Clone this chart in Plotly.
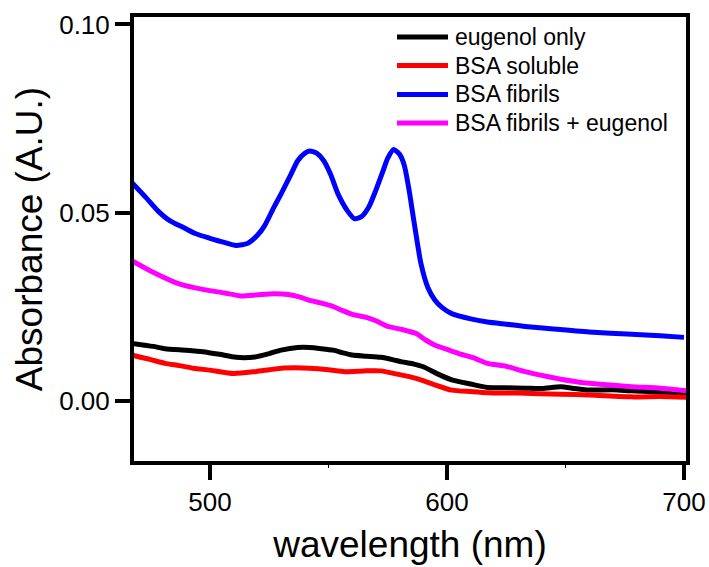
import plotly.graph_objects as go

# Absorbance spectra (wavelength in nm, absorbance in A.U.)
wl_eugenol = [467, 476, 481, 490, 497, 504, 511, 519, 525, 530, 537, 542, 547, 552, 556, 560, 566,
              572, 577, 581, 586, 590, 596, 602, 610, 617, 625, 633, 640, 648, 654, 660, 670, 678, 690, 701]
abs_eugenol = [0.0153, 0.0145, 0.0139, 0.0135, 0.0131, 0.0124, 0.0116, 0.0117, 0.0126, 0.0135, 0.0142,
               0.0142, 0.0139, 0.0135, 0.0128, 0.0122, 0.0119, 0.0116, 0.0110, 0.0104, 0.0098, 0.0091,
               0.0072, 0.0056, 0.0045, 0.0036, 0.0035, 0.0034, 0.0033, 0.0038, 0.0033, 0.0029, 0.0030,
               0.0027, 0.0024, 0.0018]

wl_soluble = [467, 475, 481, 487, 493, 500, 510, 519, 525, 530, 536, 542, 550, 557, 565, 572, 580,
              587, 594, 602, 610, 617, 630, 648, 660, 678, 690, 701]
abs_soluble = [0.0122, 0.0110, 0.0100, 0.0094, 0.0087, 0.0082, 0.0073, 0.0078, 0.0083, 0.0087, 0.0088,
               0.0087, 0.0083, 0.0078, 0.0080, 0.0080, 0.0070, 0.0060, 0.0045, 0.0029, 0.0025, 0.0022,
               0.0021, 0.0018, 0.0016, 0.0011, 0.0012, 0.0010]

wl_fibrils = [467, 473, 478, 483, 489, 494, 500, 506, 511, 516, 520, 523, 527, 530, 534, 537, 540,
              542, 545, 548, 551, 554, 558, 561, 564, 567, 570, 573, 575, 577.5, 580, 582, 584, 586,
              589, 592, 595, 598, 602, 610, 617, 625, 633, 645, 660, 678, 690, 700]
abs_fibrils = [0.0580, 0.0540, 0.0505, 0.0479, 0.0460, 0.0444, 0.0432, 0.0421, 0.0413, 0.0419,
               0.0440, 0.0465, 0.0515, 0.0550, 0.0600, 0.0638, 0.0658, 0.0664, 0.0658, 0.0638,
               0.0600, 0.0550, 0.0505, 0.0484, 0.0490, 0.0515, 0.0560, 0.0611, 0.0645, 0.0668,
               0.0655, 0.0625, 0.0560, 0.0479, 0.0365, 0.0300, 0.0267, 0.0248, 0.0232, 0.0218,
               0.0210, 0.0204, 0.0198, 0.0191, 0.0183, 0.0177, 0.0173, 0.0169]

wl_fib_eug = [467, 476, 487, 498, 506, 513, 520, 527, 533, 538, 542, 547, 551, 556, 560, 566, 570,
              575, 581, 587, 591, 595, 600, 605, 611, 617, 625, 633, 640, 648, 654, 660, 670, 678, 690, 701]
abs_fib_eug = [0.0373, 0.0342, 0.0311, 0.0295, 0.0287, 0.0279, 0.0282, 0.0285, 0.0283, 0.0276,
               0.0267, 0.0260, 0.0253, 0.0240, 0.0230, 0.0222, 0.0213, 0.0198, 0.0190, 0.0179,
               0.0162, 0.0148, 0.0137, 0.0126, 0.0115, 0.0100, 0.0092, 0.0078, 0.0068, 0.0058,
               0.0052, 0.0047, 0.0042, 0.0038, 0.0034, 0.0027]

series = [
    ("eugenol only", wl_eugenol, abs_eugenol, "#000000"),
    ("BSA soluble", wl_soluble, abs_soluble, "#ff0000"),
    ("BSA fibrils", wl_fibrils, abs_fibrils, "#0000ff"),
    ("BSA fibrils + eugenol", wl_fib_eug, abs_fib_eug, "#ff00ff"),
]

W, H = 709, 567
M_L, M_R, M_T, M_B = 134, 23, 17, 106
font_family = "Liberation Sans, Arial, sans-serif"


def paper_x(px):
    return (px - M_L) / (W - M_L - M_R)


def paper_y(py):
    return 1 - (py - M_T) / (H - M_T - M_B)


fig = go.Figure()
for name, x, y, color in series:
    fig.add_trace(go.Scatter(
        x=x, y=y, name=name, mode="lines", showlegend=False,
        line=dict(color=color, width=5, shape="spline", smoothing=0.6),
    ))

# Compact key in the upper right: a line sample and a label per series
row_y = [37, 65.5, 94.5, 123]
shapes, annotations = [], []
for (name, _, _, color), ry in zip(series, row_y):
    shapes.append(dict(
        type="line", xref="paper", yref="paper",
        x0=paper_x(397), x1=paper_x(448), y0=paper_y(ry), y1=paper_y(ry),
        line=dict(color=color, width=5),
    ))
    annotations.append(dict(
        xref="paper", yref="paper", x=paper_x(453), y=paper_y(ry),
        xanchor="left", yanchor="middle", text=name, showarrow=False,
        font=dict(size=23, family=font_family, color="black"),
    ))

fig.update_layout(
    width=W, height=H,
    margin=dict(l=M_L, r=M_R, t=M_T, b=M_B, autoexpand=False),
    paper_bgcolor="white", plot_bgcolor="white",
    font=dict(family=font_family, color="black"),
    showlegend=False,
    shapes=shapes,
    annotations=annotations,
    xaxis=dict(
        range=[467.93, 700.84],
        tickvals=[500, 600, 700],
        ticks="outside", ticklen=15, tickwidth=4, tickcolor="black",
        tickfont=dict(size=26),
        showline=True, linewidth=4, linecolor="black", mirror=True,
        showgrid=False, zeroline=False, automargin=False,
        minor=dict(tickvals=[550, 650], ticks="outside", ticklen=3, tickwidth=1, tickcolor="black"),
        title=dict(text="wavelength (nm)", font=dict(size=37), standoff=16),
    ),
    yaxis=dict(
        range=[-0.01593, 0.10197],
        tickvals=[0.0, 0.05, 0.10],
        tickformat=".2f",
        ticks="outside", ticklen=15, tickwidth=4, tickcolor="black",
        tickfont=dict(size=26),
        showline=True, linewidth=4, linecolor="black", mirror=True,
        showgrid=False, zeroline=False, automargin=False,
        title=dict(text="Absorbance (A.U.)", font=dict(size=37), standoff=6),
    ),
)

fig.write_html("out.html")
